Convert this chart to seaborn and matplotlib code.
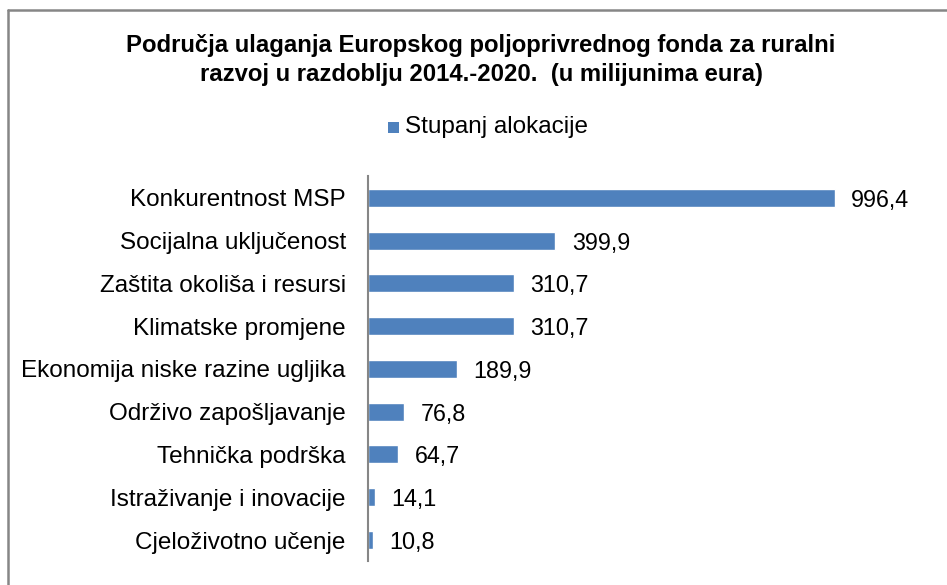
import matplotlib
matplotlib.use("Agg")
import matplotlib.pyplot as plt
import seaborn as sns
import pandas as pd
from matplotlib.patches import Rectangle

categories = [
    "Konkurentnost MSP",
    "Socijalna uključenost",
    "Zaštita okoliša i resursi",
    "Klimatske promjene",
    "Ekonomija niske razine ugljika",
    "Održivo zapošljavanje",
    "Tehnička podrška",
    "Istraživanje i inovacije",
    "Cjeloživotno učenje",
]
values = [996.4, 399.9, 310.7, 310.7, 189.9, 76.8, 64.7, 14.1, 10.8]
value_labels = ["996,4", "399,9", "310,7", "310,7", "189,9", "76,8", "64,7", "14,1", "10,8"]
series_name = "Stupanj alokacije"
title = "Područja ulaganja Europskog poljoprivrednog fonda za ruralni\nrazvoj u razdoblju 2014.-2020.  (u milijunima eura)"

sns.set_style("white")
plt.rcParams["font.family"] = ["Liberation Sans", "DejaVu Sans"]

df = pd.DataFrame({"Kategorija": categories, "Vrijednost": values})

W, H = 947, 585
fig = plt.figure(figsize=(W / 100, H / 100), dpi=100)
ax = fig.add_axes([368 / W, 23.6 / H, 562 / W, 385 / H])

color = "#4F81BD"
sns.barplot(data=df, y="Kategorija", x="Vrijednost", orient="h", color=color,
            width=0.42, ax=ax, saturation=1)
ax.set_xlim(0, 1200)
ax.set_ylim(8.5, -0.5)

for t in ax.bar_label(ax.containers[0], labels=value_labels, padding=12,
                      fontsize=16.8, color="#000000"):
    t.set_va("center_baseline")

ax.set_xlabel("")
ax.set_ylabel("")
ax.set_xticks([])
ax.tick_params(axis="y", length=0, pad=16, labelsize=17.5, labelcolor="#000000")
for lbl in ax.get_yticklabels():
    lbl.set_va("center_baseline")
for s in ["top", "right", "bottom"]:
    ax.spines[s].set_visible(False)
ax.spines["left"].set_color("#868686")
ax.spines["left"].set_linewidth(1.5)

# title
fig.text(481 / W, 1 - 60 / H, title, ha="center", va="center", fontsize=17.2,
         fontweight="bold", linespacing=1.32, color="#000000")

# legend
fig.patches.append(Rectangle((388 / W, 1 - 133 / H), 11 / W, 11 / H,
                             transform=fig.transFigure, facecolor=color, edgecolor="none"))
fig.text(405 / W, 1 - 127 / H, series_name, ha="left", va="center", fontsize=17.5, color="#000000")

# chart border
fig.add_artist(plt.Line2D([8 / W, 8 / W], [0, 1 - 9.5 / H], transform=fig.transFigure,
                          color="#868686", linewidth=1.8))
fig.add_artist(plt.Line2D([8 / W, 1], [1 - 9.5 / H, 1 - 9.5 / H], transform=fig.transFigure,
                          color="#868686", linewidth=1.8))

fig.savefig("out.png", dpi=100, facecolor="white")
